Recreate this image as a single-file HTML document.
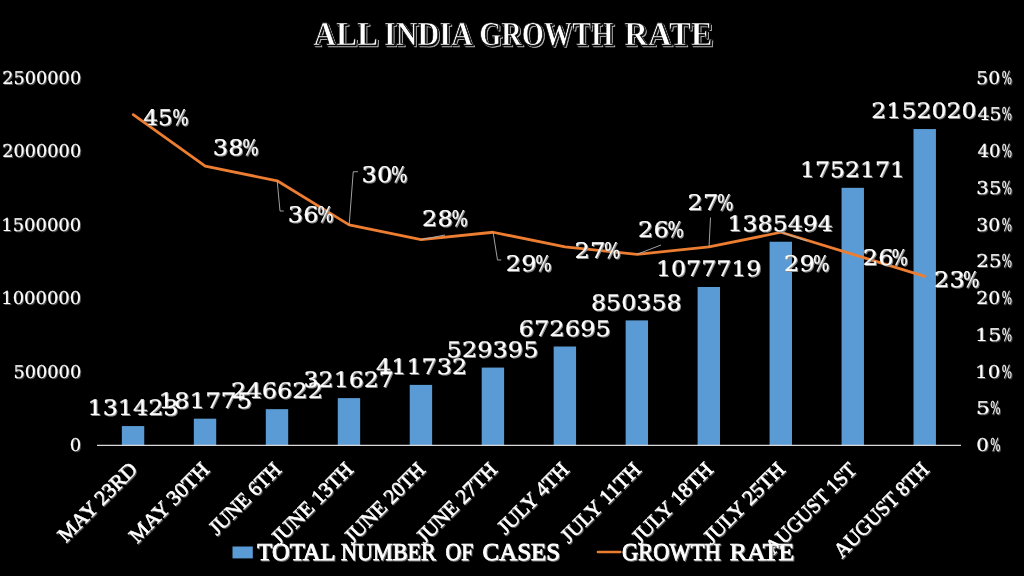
<!DOCTYPE html>
<html lang="en"><head><meta charset="utf-8"><title>All India Growth Rate</title>
<style>
html,body{margin:0;padding:0;background:#000;}
body{width:1024px;height:576px;overflow:hidden;}
svg{display:block;}
text{white-space:pre;fill:#fff;text-rendering:geometricPrecision;}
.ti{font-family:"Liberation Serif", serif;font-weight:bold;font-size:33.6px;}
.ax{font-family:"DejaVu Serif", "Liberation Serif", serif;font-weight:normal;font-size:17.6px;}
.dl{font-family:"DejaVu Serif", "Liberation Serif", serif;font-weight:normal;font-size:21.3px;}
.pl{font-family:"DejaVu Serif", "Liberation Serif", serif;font-weight:normal;font-size:21.5px;}
.lg{font-family:"Liberation Serif", serif;font-weight:normal;font-size:24.2px;}
.ct{font-family:"Liberation Serif", serif;font-weight:normal;font-size:21.2px;}
.ti{filter:drop-shadow(1px 1px 0 #000) drop-shadow(1px 1px 0 #b4b4b4);stroke:#000;stroke-width:0.7px;}
.ct{filter:drop-shadow(1px 1px 0 #5a5a5a);stroke:#fff;stroke-width:0.5px;}
.lg{filter:drop-shadow(1px 1px 0 #707070);stroke:#fff;stroke-width:0.8px;}
.dl,.pl{filter:drop-shadow(1px 1px 0 #8a8a8a);stroke:#fff;stroke-width:0.2px;}
.ax{filter:drop-shadow(1px 1px 0 #505050);stroke:#fff;stroke-width:0.2px;}
</style></head><body>
<svg width="1024" height="576" viewBox="0 0 1024 576">
<rect width="1024" height="576" fill="#000"/>
<g fill="#5B9BD5">
<rect x="121.85" y="426.08" width="22.4" height="19.32"/>
<rect x="193.82" y="418.68" width="22.4" height="26.72"/>
<rect x="265.79" y="409.15" width="22.4" height="36.25"/>
<rect x="337.76" y="398.12" width="22.4" height="47.28"/>
<rect x="409.73" y="384.88" width="22.4" height="60.52"/>
<rect x="481.70" y="367.58" width="22.4" height="77.82"/>
<rect x="553.67" y="346.51" width="22.4" height="98.89"/>
<rect x="625.64" y="320.40" width="22.4" height="125.00"/>
<rect x="697.61" y="286.98" width="22.4" height="158.42"/>
<rect x="769.58" y="241.73" width="22.4" height="203.67"/>
<rect x="841.55" y="187.83" width="22.4" height="257.57"/>
<rect x="913.52" y="129.05" width="22.4" height="316.35"/>
</g>
<line x1="97" y1="445.4" x2="961" y2="445.4" stroke="#D9D9D9" stroke-width="1.25"/>
<polyline fill="none" stroke="#ED7D31" stroke-width="2.8" stroke-linejoin="round" stroke-linecap="round" points="133.25,114.65 205.22,166.10 277.19,180.80 349.16,224.90 421.13,239.60 493.10,232.25 565.07,246.95 637.04,254.30 709.01,246.95 780.98,232.25 852.95,254.30 924.92,276.35"/>
<g fill="none" stroke="#B2B2B2" stroke-width="0.9">
<polyline points="277.19,180.80 280.00,211.00 283.75,211.00"/>
<polyline points="349.16,224.90 353.25,171.75 358.00,171.75"/>
<polyline points="421.13,239.60 445.00,235.00"/>
<polyline points="493.10,232.25 497.50,260.00 501.25,260.00"/>
<polyline points="637.04,254.30 661.00,245.00"/>
<polyline points="709.01,246.95 710.50,217.50"/>
<polyline points="780.98,232.25 807.00,241.00"/>
</g>
<rect x="232.5" y="546.5" width="20.3" height="11.9" fill="#5B9BD5"/>
<line x1="598" y1="552" x2="620.3" y2="552" stroke="#ED7D31" stroke-width="2.6" stroke-linecap="round"/>
<g class="ct">
<text transform="translate(138.25 471.00) rotate(-45)" x="-102.30" y="0" textLength="102.60" lengthAdjust="spacingAndGlyphs">MAY 23RD</text>
<text transform="translate(210.22 471.00) rotate(-45)" x="-103.10" y="0" textLength="103.40" lengthAdjust="spacingAndGlyphs">MAY 30TH</text>
<text transform="translate(282.19 471.00) rotate(-45)" x="-92.30" y="0" textLength="92.59" lengthAdjust="spacingAndGlyphs">JUNE 6TH</text>
<text transform="translate(354.16 471.00) rotate(-45)" x="-106.10" y="0" textLength="106.40" lengthAdjust="spacingAndGlyphs">JUNE 13TH</text>
<text transform="translate(426.13 471.00) rotate(-45)" x="-104.20" y="0" textLength="104.50" lengthAdjust="spacingAndGlyphs">JUNE 20TH</text>
<text transform="translate(498.10 471.00) rotate(-45)" x="-104.20" y="0" textLength="104.50" lengthAdjust="spacingAndGlyphs">JUNE 27TH</text>
<text transform="translate(570.07 471.00) rotate(-45)" x="-91.40" y="0" textLength="91.69" lengthAdjust="spacingAndGlyphs">JULY 4TH</text>
<text transform="translate(642.04 471.00) rotate(-45)" x="-103.60" y="0" textLength="103.90" lengthAdjust="spacingAndGlyphs">JULY 11TH</text>
<text transform="translate(714.01 471.00) rotate(-45)" x="-105.20" y="0" textLength="105.50" lengthAdjust="spacingAndGlyphs">JULY 18TH</text>
<text transform="translate(785.98 471.00) rotate(-45)" x="-105.20" y="0" textLength="105.50" lengthAdjust="spacingAndGlyphs">JULY 25TH</text>
<text transform="translate(857.95 471.00) rotate(-45)" x="-119.10" y="0" textLength="119.05" lengthAdjust="spacingAndGlyphs">AUGUST 1ST</text>
<text transform="translate(929.92 471.00) rotate(-45)" x="-124.30" y="0" textLength="124.59" lengthAdjust="spacingAndGlyphs">AUGUST 8TH</text>
</g>
<g class="ax">
<text x="69.72" y="451.20" textLength="11.47" lengthAdjust="spacingAndGlyphs">0</text>
<text x="13.49" y="377.70" textLength="67.70" lengthAdjust="spacingAndGlyphs">500000</text>
<text x="1.21" y="304.20" textLength="79.99" lengthAdjust="spacingAndGlyphs">1000000</text>
<text x="1.21" y="230.70" textLength="79.99" lengthAdjust="spacingAndGlyphs">1500000</text>
<text x="2.24" y="157.20" textLength="78.95" lengthAdjust="spacingAndGlyphs">2000000</text>
<text x="2.24" y="83.70" textLength="78.95" lengthAdjust="spacingAndGlyphs">2500000</text>
<text y="451.20" lengthAdjust="spacingAndGlyphs"><tspan x="976.27" textLength="12.65" lengthAdjust="spacingAndGlyphs">0</tspan><tspan x="990.30" textLength="10.24" lengthAdjust="spacingAndGlyphs">%</tspan></text>
<text y="414.45" lengthAdjust="spacingAndGlyphs"><tspan x="976.14" textLength="14.05" lengthAdjust="spacingAndGlyphs">5</tspan><tspan x="990.30" textLength="10.24" lengthAdjust="spacingAndGlyphs">%</tspan></text>
<text y="377.70" lengthAdjust="spacingAndGlyphs"><tspan x="975.14" textLength="25.28" lengthAdjust="spacingAndGlyphs">10</tspan><tspan x="1001.80" textLength="10.24" lengthAdjust="spacingAndGlyphs">%</tspan></text>
<text y="340.95" lengthAdjust="spacingAndGlyphs"><tspan x="975.02" textLength="26.59" lengthAdjust="spacingAndGlyphs">15</tspan><tspan x="1001.80" textLength="10.24" lengthAdjust="spacingAndGlyphs">%</tspan></text>
<text y="304.20" lengthAdjust="spacingAndGlyphs"><tspan x="976.32" textLength="24.08" lengthAdjust="spacingAndGlyphs">20</tspan><tspan x="1001.80" textLength="10.24" lengthAdjust="spacingAndGlyphs">%</tspan></text>
<text y="267.45" lengthAdjust="spacingAndGlyphs"><tspan x="976.27" textLength="25.28" lengthAdjust="spacingAndGlyphs">25</tspan><tspan x="1001.80" textLength="10.24" lengthAdjust="spacingAndGlyphs">%</tspan></text>
<text y="230.70" lengthAdjust="spacingAndGlyphs"><tspan x="976.32" textLength="24.08" lengthAdjust="spacingAndGlyphs">30</tspan><tspan x="1001.80" textLength="10.24" lengthAdjust="spacingAndGlyphs">%</tspan></text>
<text y="193.95" lengthAdjust="spacingAndGlyphs"><tspan x="976.27" textLength="25.28" lengthAdjust="spacingAndGlyphs">35</tspan><tspan x="1001.80" textLength="10.24" lengthAdjust="spacingAndGlyphs">%</tspan></text>
<text y="157.20" lengthAdjust="spacingAndGlyphs"><tspan x="977.40" textLength="23.00" lengthAdjust="spacingAndGlyphs">40</tspan><tspan x="1001.80" textLength="10.24" lengthAdjust="spacingAndGlyphs">%</tspan></text>
<text y="120.45" lengthAdjust="spacingAndGlyphs"><tspan x="977.40" textLength="24.08" lengthAdjust="spacingAndGlyphs">45</tspan><tspan x="1001.80" textLength="10.24" lengthAdjust="spacingAndGlyphs">%</tspan></text>
<text y="83.70" lengthAdjust="spacingAndGlyphs"><tspan x="976.32" textLength="24.08" lengthAdjust="spacingAndGlyphs">50</tspan><tspan x="1001.80" textLength="10.24" lengthAdjust="spacingAndGlyphs">%</tspan></text>
</g>
<g class="dl">
<text x="87.46" y="415.00" textLength="91.08" lengthAdjust="spacingAndGlyphs">131423</text>
<text x="158.40" y="408.00" textLength="93.69" lengthAdjust="spacingAndGlyphs">181775</text>
<text x="231.07" y="398.00" textLength="91.98" lengthAdjust="spacingAndGlyphs">246622</text>
<text x="303.62" y="387.00" textLength="90.07" lengthAdjust="spacingAndGlyphs">321627</text>
<text x="375.95" y="374.00" textLength="91.34" lengthAdjust="spacingAndGlyphs">411732</text>
<text x="446.57" y="357.00" textLength="91.98" lengthAdjust="spacingAndGlyphs">529395</text>
<text x="518.56" y="336.00" textLength="92.50" lengthAdjust="spacingAndGlyphs">672695</text>
<text x="590.93" y="310.00" textLength="90.83" lengthAdjust="spacingAndGlyphs">850358</text>
<text x="655.98" y="276.00" textLength="105.43" lengthAdjust="spacingAndGlyphs">1077719</text>
<text x="727.48" y="231.00" textLength="105.43" lengthAdjust="spacingAndGlyphs">1385494</text>
<text x="799.98" y="177.00" textLength="105.14" lengthAdjust="spacingAndGlyphs">1752171</text>
<text x="871.34" y="118.00" textLength="105.32" lengthAdjust="spacingAndGlyphs">2152020</text>
</g>
<g class="pl">
<text y="125.35" lengthAdjust="spacingAndGlyphs"><tspan x="143.20" textLength="29.53" lengthAdjust="spacingAndGlyphs">45</tspan><tspan x="172.35" textLength="16.34" lengthAdjust="spacingAndGlyphs">%</tspan></text>
<text y="154.60" lengthAdjust="spacingAndGlyphs"><tspan x="212.83" textLength="30.68" lengthAdjust="spacingAndGlyphs">38</tspan><tspan x="242.35" textLength="16.34" lengthAdjust="spacingAndGlyphs">%</tspan></text>
<text y="221.60" lengthAdjust="spacingAndGlyphs"><tspan x="287.83" textLength="30.68" lengthAdjust="spacingAndGlyphs">36</tspan><tspan x="317.35" textLength="16.34" lengthAdjust="spacingAndGlyphs">%</tspan></text>
<text y="182.10" lengthAdjust="spacingAndGlyphs"><tspan x="361.58" textLength="30.68" lengthAdjust="spacingAndGlyphs">30</tspan><tspan x="391.10" textLength="16.34" lengthAdjust="spacingAndGlyphs">%</tspan></text>
<text y="226.10" lengthAdjust="spacingAndGlyphs"><tspan x="422.08" textLength="30.68" lengthAdjust="spacingAndGlyphs">28</tspan><tspan x="451.60" textLength="16.34" lengthAdjust="spacingAndGlyphs">%</tspan></text>
<text y="271.10" lengthAdjust="spacingAndGlyphs"><tspan x="505.83" textLength="30.68" lengthAdjust="spacingAndGlyphs">29</tspan><tspan x="535.35" textLength="16.34" lengthAdjust="spacingAndGlyphs">%</tspan></text>
<text y="257.85" lengthAdjust="spacingAndGlyphs"><tspan x="574.58" textLength="30.68" lengthAdjust="spacingAndGlyphs">27</tspan><tspan x="604.10" textLength="16.34" lengthAdjust="spacingAndGlyphs">%</tspan></text>
<text y="237.10" lengthAdjust="spacingAndGlyphs"><tspan x="638.08" textLength="30.68" lengthAdjust="spacingAndGlyphs">26</tspan><tspan x="667.60" textLength="16.34" lengthAdjust="spacingAndGlyphs">%</tspan></text>
<text y="209.60" lengthAdjust="spacingAndGlyphs"><tspan x="687.58" textLength="30.68" lengthAdjust="spacingAndGlyphs">27</tspan><tspan x="717.10" textLength="16.34" lengthAdjust="spacingAndGlyphs">%</tspan></text>
<text y="271.10" lengthAdjust="spacingAndGlyphs"><tspan x="784.08" textLength="30.68" lengthAdjust="spacingAndGlyphs">29</tspan><tspan x="813.10" textLength="16.34" lengthAdjust="spacingAndGlyphs">%</tspan></text>
<text y="264.60" lengthAdjust="spacingAndGlyphs"><tspan x="862.83" textLength="30.68" lengthAdjust="spacingAndGlyphs">26</tspan><tspan x="891.60" textLength="16.34" lengthAdjust="spacingAndGlyphs">%</tspan></text>
<text y="286.60" lengthAdjust="spacingAndGlyphs"><tspan x="934.08" textLength="30.68" lengthAdjust="spacingAndGlyphs">23</tspan><tspan x="963.10" textLength="16.34" lengthAdjust="spacingAndGlyphs">%</tspan></text>
</g>
<g class="lg">
<text y="559.50"><tspan x="257.30" textLength="77.48" lengthAdjust="spacingAndGlyphs">TOTAL</tspan> <tspan x="341.00" textLength="94.81" lengthAdjust="spacingAndGlyphs">NUMBER</tspan> <tspan x="445.60" textLength="27.81" lengthAdjust="spacingAndGlyphs">OF</tspan> <tspan x="482.50" textLength="77.60" lengthAdjust="spacingAndGlyphs">CASES</tspan></text>
<text y="559.50"><tspan x="622.00" textLength="98.73" lengthAdjust="spacingAndGlyphs">GROWTH</tspan> <tspan x="729.70" textLength="64.73" lengthAdjust="spacingAndGlyphs">RATE</tspan></text>
</g>
<g class="ti">
<text y="44.70"><tspan x="313.20" textLength="63.08" lengthAdjust="spacingAndGlyphs">ALL</tspan> <tspan x="384.12" textLength="86.90" lengthAdjust="spacingAndGlyphs">INDIA</tspan> <tspan x="479.15" textLength="134.15" lengthAdjust="spacingAndGlyphs">GROWTH</tspan> <tspan x="624.20" textLength="88.46" lengthAdjust="spacingAndGlyphs">RATE</tspan></text>
</g>
</svg></body></html>
